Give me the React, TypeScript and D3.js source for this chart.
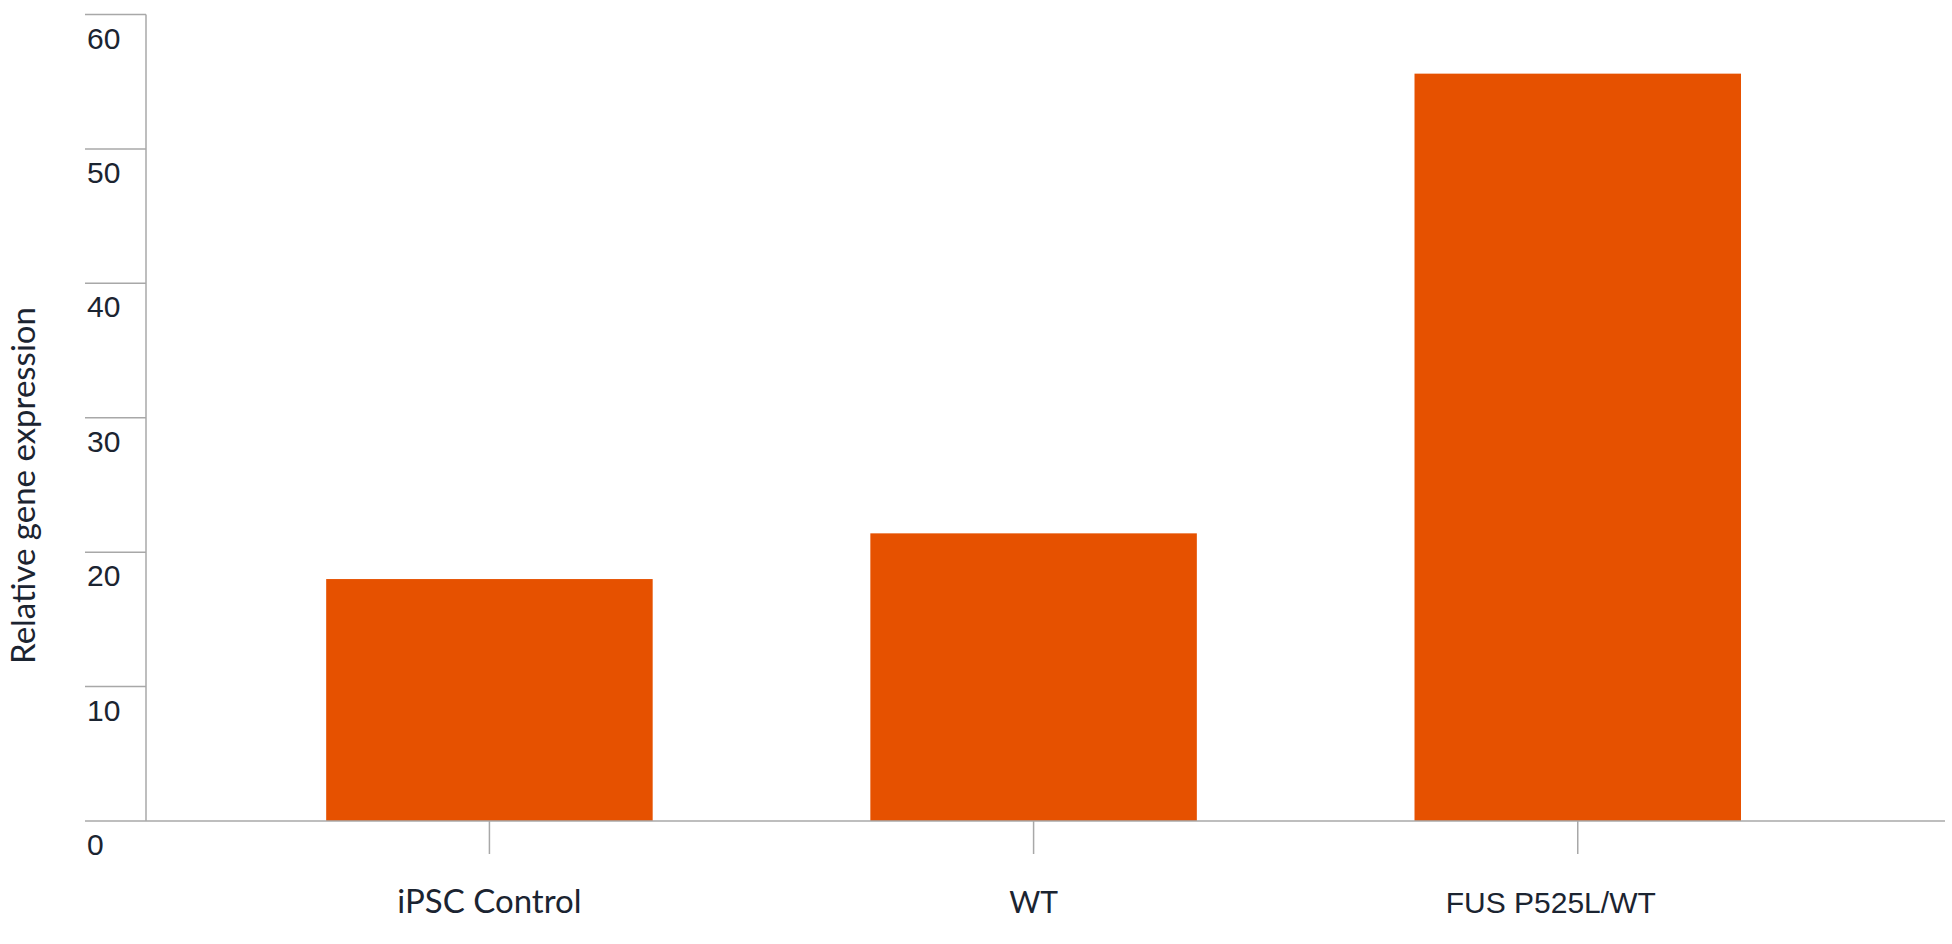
import * as d3 from 'd3';
import React from 'react';

const categories = ['iPSC Control', 'WT', 'FUS P525L/WT'];
const values = [18, 21.4, 55.6];
const yTicks = [0, 10, 20, 30, 40, 50, 60];

const W = 1952;
const H = 944;
const axisX = 146;
const plotRight = 1945;
const tickLeft = 85;
const barColor = '#e65100';
const lineColor = '#a8a8a8';
const textColor = '#1b2431';
const geo = 'Lato, "Noto Sans", sans-serif';
const grot = '"Liberation Sans", Arial, sans-serif';

const App = () => {
  const y = d3.scaleLinear().domain([0, 60]).range([821, 14.5]);
  const x = d3
    .scaleBand()
    .domain(categories)
    .range([axisX, plotRight])
    .paddingInner(0.4)
    .paddingOuter(0.353)
    .align(0.469);

  // the three labels were set in slightly different type in the original
  const labelFont = (c) => (c === 'FUS P525L/WT' ? grot : geo);
  const labelSize = (c) => (c === 'iPSC Control' ? 33 : 30);
  const labelNudge = (c) => (c === 'FUS P525L/WT' ? -27 : 0);

  return (
    <svg width={W} height={H} style={{ position: 'absolute', left: 0, top: 0, background: '#fff' }}>
      {categories.map((c, i) => (
        <rect key={c} x={x(c)} y={y(values[i])} width={x.bandwidth()} height={y(0) - y(values[i])} fill={barColor} />
      ))}

      {/* y axis */}
      <line x1={axisX} x2={axisX} y1={y(60)} y2={y(0)} stroke={lineColor} strokeWidth={1.5} />
      {yTicks.map((t) => (
        <g key={t}>
          <line x1={tickLeft} x2={t === 0 ? plotRight : axisX} y1={y(t)} y2={y(t)} stroke={lineColor} strokeWidth={1.5} />
          <text x={87} y={y(t) + 34} fontFamily={grot} fontSize={30} fill={textColor}>
            {t}
          </text>
        </g>
      ))}

      {/* x axis ticks and labels */}
      {categories.map((c) => {
        const cx = x(c) + x.bandwidth() / 2;
        return (
          <g key={c}>
            <line x1={cx} x2={cx} y1={y(0)} y2={y(0) + 33} stroke={lineColor} strokeWidth={1.5} />
            <text
              x={cx + labelNudge(c)}
              y={913}
              textAnchor="middle"
              fontFamily={labelFont(c)}
              fontSize={labelSize(c)}
              fill={textColor}
            >
              {c}
            </text>
          </g>
        );
      })}

      <text
        transform={`translate(35,${(305 + 666) / 2}) rotate(-90)`}
        textAnchor="middle"
        fontFamily={geo}
        fontSize={33}
        fill={textColor}
      >
        Relative gene expression
      </text>
    </svg>
  );
};

export default App;
